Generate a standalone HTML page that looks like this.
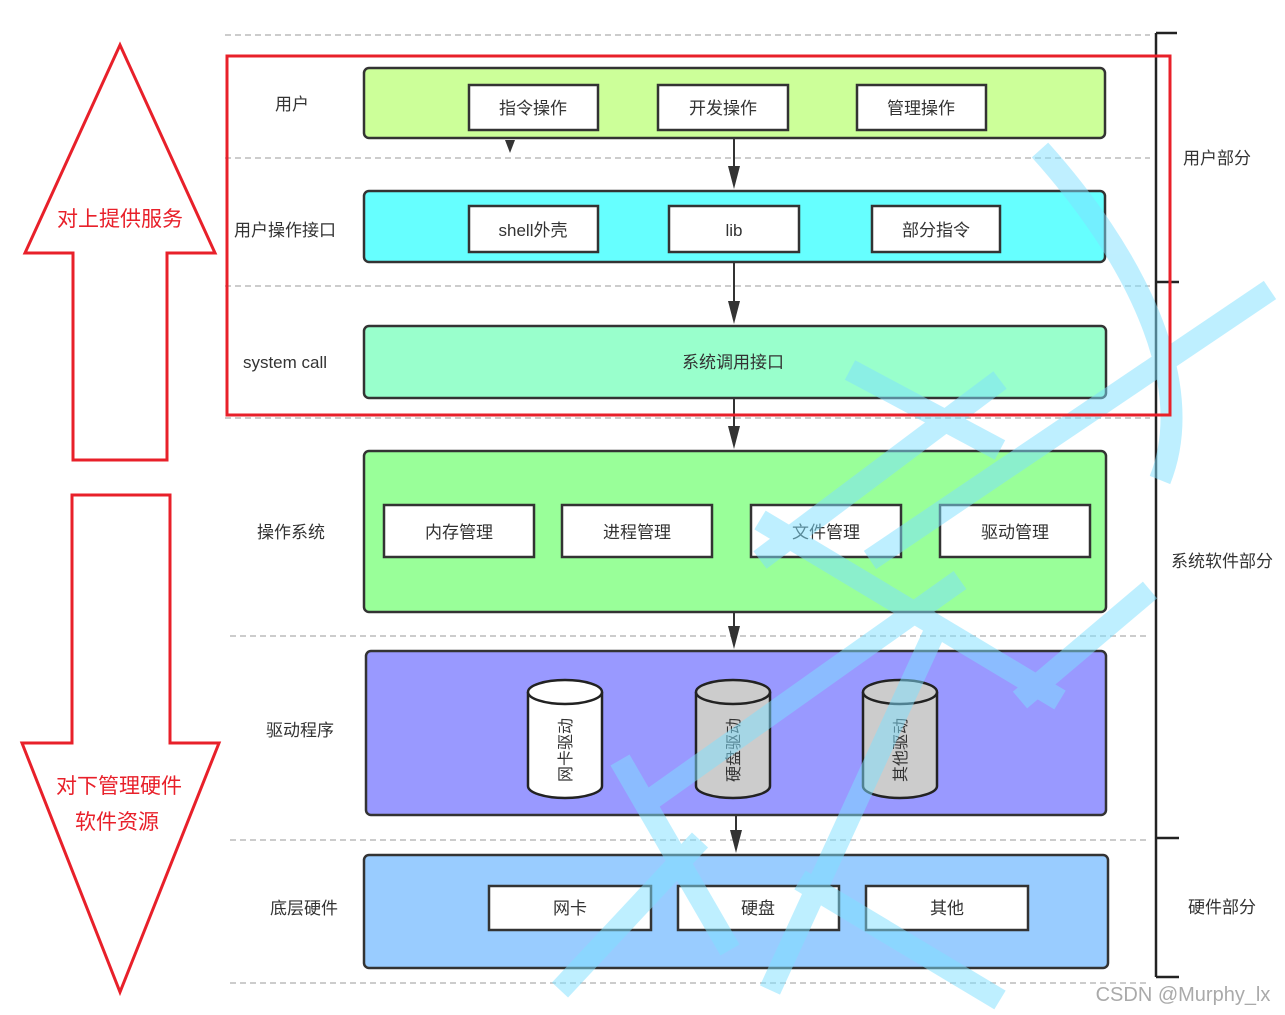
<!DOCTYPE html>
<html><head><meta charset="utf-8"><style>
html,body{margin:0;padding:0;background:#fff;}
svg{display:block;}
text{font-family:"Liberation Sans","Noto Sans CJK SC",sans-serif;}
</style></head><body>
<svg width="1285" height="1015" viewBox="0 0 1285 1015" xmlns="http://www.w3.org/2000/svg">
<g stroke="#bbb" stroke-width="1.5" stroke-dasharray="6,4">
<line x1="225" y1="35" x2="1150" y2="35"/>
<line x1="225" y1="158" x2="1150" y2="158"/>
<line x1="225" y1="286" x2="1150" y2="286"/>
<line x1="225" y1="418" x2="1150" y2="418"/>
<line x1="230" y1="636" x2="1150" y2="636"/>
<line x1="230" y1="840" x2="1150" y2="840"/>
<line x1="230" y1="983" x2="1150" y2="983"/>
</g>
<g stroke="#222" stroke-width="2.5" fill="none">
<line x1="1156" y1="33" x2="1156" y2="977"/>
<line x1="1156" y1="33" x2="1177" y2="33"/>
<line x1="1156" y1="282" x2="1179" y2="282"/>
<line x1="1156" y1="838" x2="1179" y2="838"/>
<line x1="1156" y1="977" x2="1179" y2="977"/>
</g>
<g font-size="17" fill="#333" text-anchor="middle">
<text x="1217" y="164">用户部分</text>
<text x="1222" y="567">系统软件部分</text>
<text x="1222" y="913">硬件部分</text>
</g>
<g stroke="#333" stroke-width="2.5">
<rect x="364" y="68" width="741" height="70" rx="5" fill="#ccff99"/>
<rect x="364" y="191" width="741" height="71" rx="5" fill="#66ffff"/>
<rect x="364" y="326" width="742" height="72" rx="5" fill="#99ffcc"/>
<rect x="364" y="451" width="742" height="161" rx="5" fill="#99ff99"/>
<rect x="366" y="651" width="740" height="164" rx="5" fill="#9999ff"/>
<rect x="364" y="855" width="744" height="113" rx="5" fill="#99ccff"/>
</g>
<g stroke="#333" stroke-width="2.5" fill="#fff">
<rect x="469" y="85" width="129" height="45"/>
<rect x="658" y="85" width="130" height="45"/>
<rect x="857" y="85" width="129" height="45"/>
<rect x="469" y="206" width="129" height="46"/>
<rect x="669" y="206" width="130" height="46"/>
<rect x="872" y="206" width="128" height="46"/>
<rect x="384" y="505" width="150" height="52"/>
<rect x="562" y="505" width="150" height="52"/>
<rect x="751" y="505" width="150" height="52"/>
<rect x="940" y="505" width="150" height="52"/>
<rect x="489" y="886" width="162" height="44"/>
<rect x="678" y="886" width="161" height="44"/>
<rect x="866" y="886" width="162" height="44"/>
</g>
<g stroke="#222" stroke-width="2.5">
<path d="M528,692 L528,786 A37,12 0 0 0 602,786 L602,692" fill="#fff"/>
<ellipse cx="565" cy="692" rx="37" ry="12" fill="#fff"/>
<path d="M696,692 L696,786 A37,12 0 0 0 770,786 L770,692" fill="#ccc"/>
<ellipse cx="733" cy="692" rx="37" ry="12" fill="#ccc"/>
<path d="M863,692 L863,786 A37,12 0 0 0 937,786 L937,692" fill="#ccc"/>
<ellipse cx="900" cy="692" rx="37" ry="12" fill="#ccc"/>
</g>
<g font-size="16" fill="#333" text-anchor="middle">
<text transform="translate(571,750) rotate(-90)">网卡驱动</text>
<text transform="translate(739,750) rotate(-90)">硬盘驱动</text>
<text transform="translate(906,750) rotate(-90)">其他驱动</text>
</g>
<g stroke="#333" stroke-width="2">
<line x1="734" y1="138" x2="734" y2="176"/>
<line x1="734" y1="262" x2="734" y2="311"/>
<line x1="734" y1="398" x2="734" y2="436"/>
<line x1="734" y1="612" x2="734" y2="636"/>
<line x1="736" y1="815" x2="736" y2="840"/>
</g>
<g fill="#333">
<path d="M728,166 L740,166 L734,189 Z"/>
<path d="M728,301 L740,301 L734,324 Z"/>
<path d="M728,426 L740,426 L734,449 Z"/>
<path d="M728,626 L740,626 L734,649 Z"/>
<path d="M730,830 L742,830 L736,853 Z"/>
<path d="M505,140 L515,140 L510,153 Z"/>
</g>
<g font-size="17" fill="#333" text-anchor="middle">
<text x="533" y="114">指令操作</text>
<text x="723" y="114">开发操作</text>
<text x="921" y="114">管理操作</text>
<text x="533" y="236">shell外壳</text>
<text x="734" y="236">lib</text>
<text x="936" y="236">部分指令</text>
<text x="733" y="368">系统调用接口</text>
<text x="459" y="538">内存管理</text>
<text x="637" y="538">进程管理</text>
<text x="826" y="538">文件管理</text>
<text x="1015" y="538">驱动管理</text>
<text x="570" y="914">网卡</text>
<text x="758" y="914">硬盘</text>
<text x="947" y="914">其他</text>
<text x="292" y="110">用户</text>
<text x="285" y="236">用户操作接口</text>
<text x="285" y="368">system call</text>
<text x="291" y="538">操作系统</text>
<text x="300" y="736">驱动程序</text>
<text x="304" y="914">底层硬件</text>
</g>
<g stroke="#7fe0ff" stroke-width="22" fill="none" opacity="0.5" stroke-linecap="butt">
<path d="M1040,150 C1130,250 1200,380 1160,480"/>
<path d="M1270,290 L870,560"/>
<path d="M850,370 L1000,450"/>
<path d="M1000,380 L760,560"/>
<path d="M760,520 L1060,700"/>
<path d="M960,580 L650,800"/>
<path d="M940,620 L770,990"/>
<path d="M620,760 L730,950"/>
<path d="M700,840 L560,990"/>
<path d="M800,880 L1000,1000"/>
<path d="M1020,700 L1150,590"/>
</g>
<rect x="227" y="56" width="943" height="359" fill="none" stroke="#e8202a" stroke-width="3"/>
<polygon points="120,45 25,253 73,253 73,460 167,460 167,253 215,253" fill="#fff" stroke="#e8202a" stroke-width="3"/>
<polygon points="72,495 170,495 170,743 219,743 120,992 22,743 72,743" fill="#fff" stroke="#e8202a" stroke-width="3"/>
<g font-size="21" fill="#e8202a" text-anchor="middle">
<text x="120" y="226">对上提供服务</text>
<text x="119" y="793">对下管理硬件</text>
<text x="117" y="829">软件资源</text>
</g>
<text x="1183" y="1001" font-size="20" fill="#aaa" text-anchor="middle">CSDN @Murphy_lx</text>
</svg>
</body></html>
